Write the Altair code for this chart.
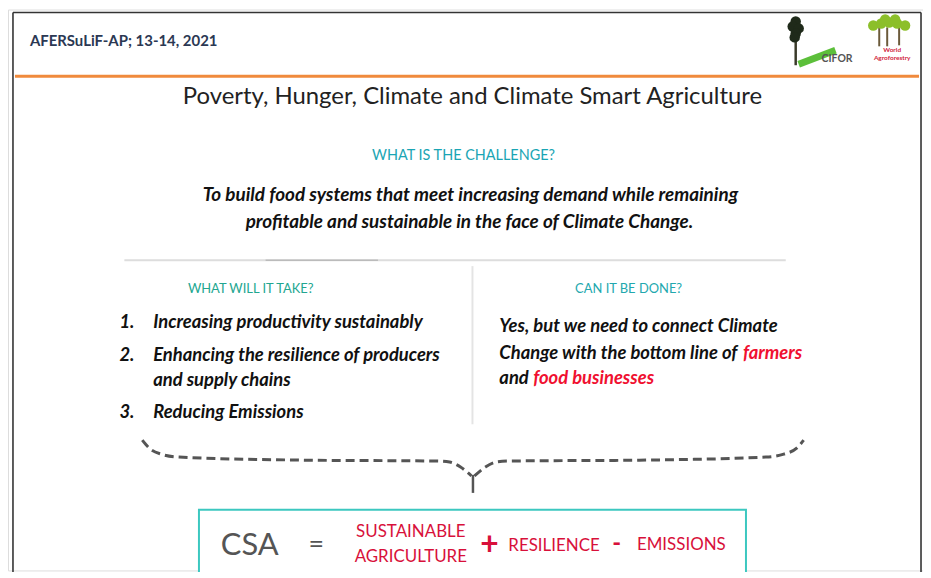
import altair as alt
import pandas as pd

# ---------------- content ----------------
header_text = "AFERSuLiF-AP; 13-14, 2021"
logo_left = "CIFOR"
logo_right = ["World", "Agroforestry"]
title_text = "Poverty, Hunger, Climate and Climate Smart Agriculture"
challenge_heading = "WHAT IS THE CHALLENGE?"
challenge_lines = [
    "To build food systems that meet increasing demand while remaining",
    "profitable and sustainable in the face of Climate Change.",
]
take_heading = "WHAT WILL IT TAKE?"
take_numbers = ["1.", "2.", "3."]
take_lines = [
    "Increasing productivity sustainably",
    "Enhancing the resilience of producers",
    "and supply chains",
    "Reducing Emissions",
]
done_heading = "CAN IT BE DONE?"
done_black = ["Yes, but we need to connect Climate", "Change with the bottom line of", "and"]
done_red = ["farmers", "food businesses"]
csa_left = ["CSA", "="]
csa_terms = ["SUSTAINABLE", "AGRICULTURE", "RESILIENCE", "EMISSIONS"]
csa_ops = ["+", "-"]

# ---------------- layout helpers ----------------
FONT = "Lato"
W, H = 920, 564
X0, Y0 = 8, 8
XS = alt.Scale(domain=[X0, X0 + W], nice=False, zero=False)
YS = alt.Scale(domain=[Y0, Y0 + H], nice=False, zero=False, reverse=True)


def txt(labels, xs, ys, size, color, weight="normal", style="normal",
        align="left", font=FONT):
    df = pd.DataFrame({"label": labels, "x": xs, "y": ys})
    return alt.Chart(df).mark_text(
        font=font, fontSize=size, color=color, fontWeight=weight,
        fontStyle=style, align=align, baseline="middle",
    ).encode(
        x=alt.X("x:Q", scale=XS, axis=None),
        y=alt.Y("y:Q", scale=YS, axis=None),
        text="label:N",
    )


def seg(x1, y1, x2, y2, color, width, dash=None, cap="butt"):
    df = pd.DataFrame({"x": x1, "y": y1, "x2": x2, "y2": y2})
    kw = dict(color=color, strokeWidth=width, strokeCap=cap)
    if dash:
        kw["strokeDash"] = dash
    return alt.Chart(df).mark_rule(**kw).encode(
        x=alt.X("x:Q", scale=XS, axis=None),
        y=alt.Y("y:Q", scale=YS, axis=None),
        x2="x2:Q", y2="y2:Q",
    )


def box(x1, y1, x2, y2, fill, stroke, width):
    df = pd.DataFrame({"x": [x1], "y": [y1], "x2": [x2], "y2": [y2]})
    return alt.Chart(df).mark_rect(
        fill=fill, stroke=stroke, strokeWidth=width
    ).encode(
        x=alt.X("x:Q", scale=XS, axis=None),
        y=alt.Y("y:Q", scale=YS, axis=None),
        x2="x2:Q", y2="y2:Q",
    )


def blobs(xs, ys, size, color):
    df = pd.DataFrame({"x": xs, "y": ys})
    return alt.Chart(df).mark_circle(color=color, size=size, opacity=1).encode(
        x=alt.X("x:Q", scale=XS, axis=None),
        y=alt.Y("y:Q", scale=YS, axis=None),
    )


layers = []

# slide frame (left, top, right edges) and header rule
layers.append(seg([13, 13, 926], [11, 11, 11], [13, 926, 926], [600, 11, 600], "#333333", 1.6))
layers.append(seg([15], [75], [924], [75], "#f08a3c", 3))

# header
layers.append(txt([header_text], [30], [40], 15, "#2b3853", weight="bold"))

# CIFOR logo
layers.append(seg([800], [30], [800], [64], "#3a3a2a", 2.5))
layers.append(seg([803], [63], [840], [49], "#5cbf3a", 7))
layers.append(blobs([800, 797, 803, 800, 799], [20, 25, 27, 32, 36], 110, "#1f2a1a"))
layers.append(txt([logo_left], [826], [58], 10.5, "#555555", weight="bold"))

# World Agroforestry logo
layers.append(seg([884, 892, 904], [26, 26, 26], [884, 892, 904], [45, 45, 44], "#6b5a3a", 2))
layers.append(blobs([878, 886, 894, 902, 910, 890, 900], [24, 22, 21, 22, 24, 18, 18],
                    110, "#8cbf2a"))
layers.append(txt([logo_right[0]], [897], [49], 6.5, "#d0203a", weight="bold", align="center"))
layers.append(txt([logo_right[1]], [897], [57], 6.5, "#d0203a", weight="bold", align="center"))

# title
layers.append(txt([title_text], [475], [96], 24, "#222222", align="center"))

# challenge
layers.append(txt([challenge_heading], [466], [155], 14.5, "#1aa5b4", align="center"))
layers.append(txt(challenge_lines, [473, 472], [195, 222], 19, "#111111",
                  weight="bold", style="italic", align="center"))

# dividers
layers.append(seg([125], [260], [790], [260], "#dddddd", 2))
layers.append(seg([267], [260], [380], [260], "#bbbbbb", 1.5))
layers.append(seg([475], [266], [475], [425], "#e4e4e4", 2))

# what will it take
layers.append(txt([take_heading], [252], [289], 13, "#22a690", align="center"))
layers.append(txt(take_numbers, [120, 120, 120], [322, 355, 413], 18.5, "#111111",
                  weight="bold", style="italic"))
layers.append(txt(take_lines, [154, 154, 154, 154], [322, 355, 381, 413], 18.5, "#111111",
                  weight="bold", style="italic"))

# can it be done
layers.append(txt([done_heading], [632], [289], 13, "#22a8ae", align="center"))
layers.append(txt(done_black, [502, 502, 502], [326, 353, 379], 18.5, "#111111",
                  weight="bold", style="italic"))
layers.append(txt(done_red, [747, 536], [353, 379], 18.5, "#f01030",
                  weight="bold", style="italic"))

# dashed brace
brace = pd.DataFrame({
    "x": [143, 150, 162, 180, 300, 440, 452, 463, 474,
          477, 488, 499, 511, 650, 770, 788, 801, 808],
    "y": [441, 449, 455, 458, 461, 462, 463, 468, 477,
          477, 468, 463, 462, 461, 458, 455, 449, 441],
    "part": ["L"] * 9 + ["R"] * 9,
    "o": list(range(18)),
})
layers.append(alt.Chart(brace).mark_line(
    color="#555555", strokeWidth=3, strokeDash=[9, 5], interpolate="monotone"
).encode(
    x=alt.X("x:Q", scale=XS, axis=None),
    y=alt.Y("y:Q", scale=YS, axis=None),
    detail="part:N", order="o:Q",
))
layers.append(seg([475.5], [476], [475.5], [494], "#555555", 2.5))

# CSA box
layers.append(box(200, 511, 750, 585, "#ffffff", "#3cc8c0", 2))
layers.append(txt([csa_left[0]], [251], [547], 31, "#555555", align="center"))
layers.append(txt([csa_left[1]], [318], [546], 27, "#555555", align="center"))
layers.append(txt(csa_terms, [413, 413, 557, 685], [533, 558, 547, 546], 17, "#d8103a",
                  align="center"))
layers.append(txt([csa_ops[0]], [492], [546], 32, "#d8103a", weight="bold", align="center"))
layers.append(txt([csa_ops[1]], [620], [545], 24, "#d8103a", weight="bold", align="center"))

chart = alt.layer(*layers).properties(
    width=W, height=H, padding=0,
    autosize=alt.AutoSizeParams(type="none"),
).configure_view(stroke=None).configure(background="#ffffff")

chart.save("out.html", embed_options={"renderer": "svg", "actions": False})
